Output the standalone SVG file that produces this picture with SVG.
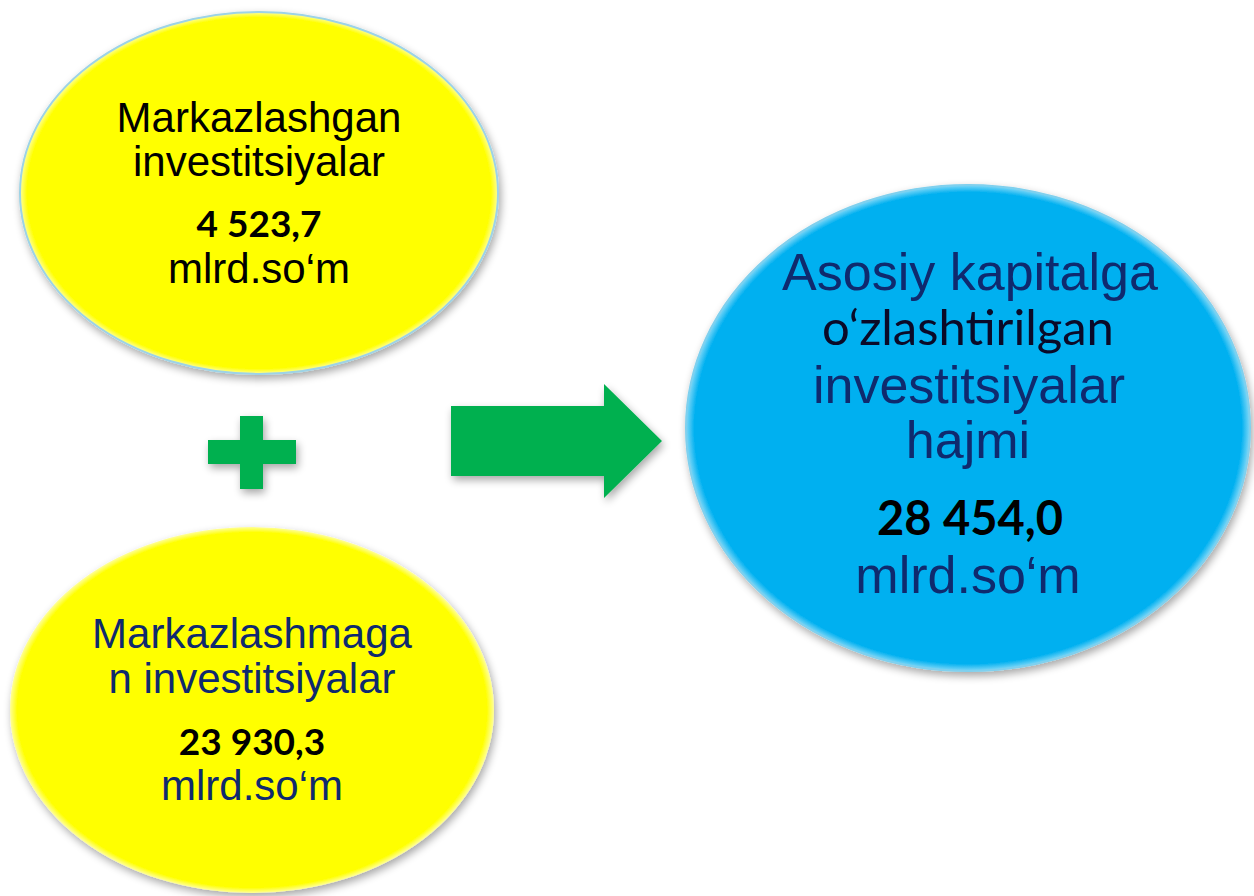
<svg xmlns="http://www.w3.org/2000/svg" width="1254" height="896" viewBox="0 0 1254 896">
<defs>
<filter id="sh" x="-10%" y="-10%" width="125%" height="125%">
<feGaussianBlur in="SourceAlpha" stdDeviation="4"/>
<feOffset dx="2" dy="4" result="b"/>
<feComponentTransfer><feFuncA type="linear" slope="0.35"/></feComponentTransfer>
<feMerge><feMergeNode/><feMergeNode in="SourceGraphic"/></feMerge>
</filter>
<radialGradient id="yel" cx="50%" cy="50%" r="50%">
<stop offset="0.9" stop-color="#FFFF00"/>
<stop offset="0.97" stop-color="#FFFF00"/>
<stop offset="1" stop-color="#FFFF99"/>
</radialGradient>
<radialGradient id="blu" cx="50%" cy="50%" r="50%">
<stop offset="0.9" stop-color="#00B0F0"/>
<stop offset="0.97" stop-color="#00B0F0"/>
<stop offset="1" stop-color="#7FD8F8"/>
</radialGradient>
</defs>
<style>
.t{font-family:"Liberation Sans",Arial,sans-serif;text-anchor:middle}
.b{font-family:Lato,"Liberation Sans",sans-serif;font-weight:bold;text-anchor:middle;fill:#000}
.c{font-family:Lato,"Liberation Sans",sans-serif;text-anchor:middle}
.nv{fill:#0F2A6E}
.k{fill:#000}
.g{fill:#00B050}
</style>
<rect width="1254" height="896" fill="#fff"/>
<g id="connectors" filter="url(#sh)">
<path class="g" d="M240 416 H263 V440 H296 V464 H263 V489 H240 V464 H208 V440 H240 Z"/>
<path class="g" d="M451 406 H604 V384 L662 441 L604 498 V476 H451 Z"/>
</g>
<g id="node-markazlashgan">
<ellipse cx="259" cy="193" rx="239" ry="181" fill="url(#yel)" stroke="#9DD3E6" stroke-width="2" filter="url(#sh)"/>
<text class="t k" x="259" y="132" font-size="42">Markazlashgan</text>
<text class="t k" x="259" y="176" font-size="42">investitsiyalar</text>
<text class="b" x="259" y="237" font-size="37">4 523,7</text>
<text class="t k" x="259" y="283" font-size="42">mlrd.so‘m</text>
</g>
<g id="node-markazlashmagan">
<ellipse cx="252" cy="710" rx="242" ry="183" fill="url(#yel)" filter="url(#sh)"/>
<text class="t nv" x="252" y="648" font-size="42">Markazlashmaga</text>
<text class="t nv" x="252" y="693" font-size="42">n investitsiyalar</text>
<text class="b" x="252" y="755" font-size="37">23 930,3</text>
<text class="t nv" x="252" y="800" font-size="42">mlrd.so‘m</text>
</g>
<g id="node-asosiy">
<ellipse cx="968" cy="428" rx="282" ry="243" fill="url(#blu)" stroke="#7FD0EE" stroke-width="2" filter="url(#sh)"/>
<text class="t nv" x="970" y="290" font-size="52">Asosiy kapitalga</text>
<text class="c" x="968" y="345" font-size="49" fill="#0A0A28">o‘zlashtirilgan</text>
<text class="t nv" x="969" y="403" font-size="52">investitsiyalar</text>
<text class="t nv" x="968" y="458" font-size="52">hajmi</text>
<text class="b" x="970" y="535" font-size="47">28 454,0</text>
<text class="t nv" x="968" y="593" font-size="52">mlrd.so‘m</text>
</g>
</svg>
